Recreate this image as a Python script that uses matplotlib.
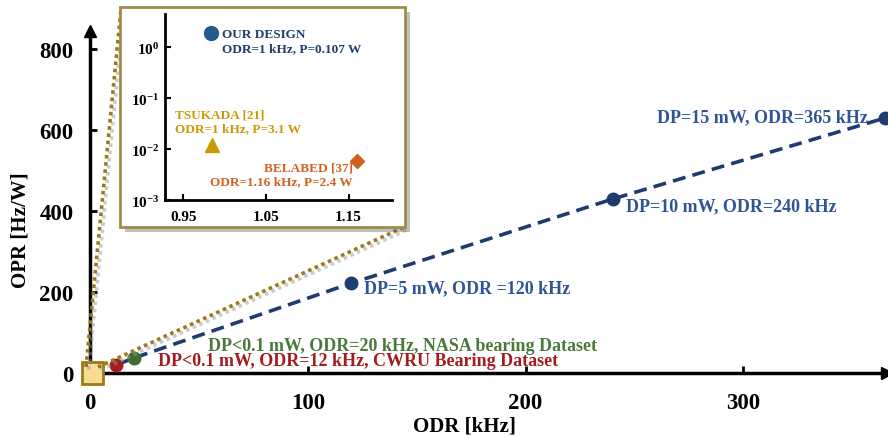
import matplotlib
matplotlib.use('Agg')
import matplotlib.pyplot as plt
import matplotlib.patheffects as pe
from matplotlib.patches import Rectangle
from matplotlib.lines import Line2D

plt.rcParams.update({'font.family': 'Liberation Serif', 'font.weight': 'bold'})

# main chart data (ODR in kHz, OPR in Hz/W)
odr = [12, 20, 120, 240, 365]
opr = [20, 37, 222, 430, 630]
point_colors = ['#a31c1f', '#3f6b35', '#1f3c6e', '#1f3c6e', '#1f3c6e']
point_labels = ['DP<0.1 mW, ODR=12 kHz, CWRU Bearing Dataset',
                'DP<0.1 mW, ODR=20 kHz, NASA bearing Dataset',
                'DP=5 mW, ODR =120 kHz',
                'DP=10 mW, ODR=240 kHz',
                'DP=15 mW, ODR=365 kHz']
label_colors = ['#a31c1f', '#4a7a3a', '#2f5597', '#2f5597', '#2f5597']
x_ticks = [0, 100, 200, 300]
y_ticks = [0, 200, 400, 600, 800]

# inset data (ODR in kHz, OPR log scale)
inset_names = ['OUR DESIGN\nODR=1 kHz, P=0.107 W',
               'TSUKADA [21]\nODR=1 kHz, P=3.1 W',
               'BELABED [37]\nODR=1.16 kHz, P=2.4 W']
inset_odr = [0.984, 0.985, 1.16]
inset_opr = [1.9, 0.012, 0.0058]
inset_markers = ['o', '^', 'D']
inset_colors = ['#245a8c', '#c99a06', '#d0621f']
inset_ticks = [0.95, 1.05, 1.15]

fig = plt.figure(figsize=(8.88, 4.39), dpi=100)
ax = fig.add_axes([0.1014, 0.148, 0.8975, 0.779])

# dashed trend line + points
ax.plot(odr, opr, color='#1f3c6e', lw=2.6, ls=(0, (3.6, 2)), zorder=3, clip_on=False)
for x, y, c in zip(odr, opr, point_colors):
    ax.plot(x, y, 'o', color=c, ms=9, zorder=4, clip_on=False)

# annotations
ax.text(31, 30, point_labels[0], color=label_colors[0], fontsize=13, va='center', ha='left')
ax.text(54, 69, point_labels[1], color=label_colors[1], fontsize=13, va='center', ha='left')
ax.text(126, 210, point_labels[2], color=label_colors[2], fontsize=13, va='center', ha='left')
ax.text(246, 414, point_labels[3], color=label_colors[3], fontsize=13, va='center', ha='left')
ax.text(357, 634, point_labels[4], color=label_colors[4], fontsize=13, va='center', ha='right')

ax.set_xlim(0, 366)
ax.set_ylim(0, 845)
ax.set_xticks(x_ticks)
ax.set_yticks(y_ticks)
ax.tick_params(direction='in', length=5, width=2, labelsize=16.5)
ax.tick_params(axis='x', pad=14)
ax.tick_params(axis='y', pad=12)
for lab in ax.get_xticklabels() + ax.get_yticklabels():
    lab.set_fontweight('bold')
for s in ['top', 'right']:
    ax.spines[s].set_visible(False)
for s in ['left', 'bottom']:
    ax.spines[s].set_linewidth(2.5)
ax.plot(1, 0, '>k', ms=9, transform=ax.get_yaxis_transform(), clip_on=False)
ax.plot(0, 1, '^k', ms=9, transform=ax.get_xaxis_transform(), clip_on=False)
ax.set_xlabel('ODR [kHz]', fontsize=15, fontweight='bold')
ax.xaxis.set_label_coords(0.47, -0.125)
ax.set_ylabel('OPR [Hz/W]', fontsize=15, fontweight='bold')
ax.yaxis.set_label_coords(-0.075, 0.42)

# zoom square at the origin
ax.add_patch(Rectangle((-3.7, -27), 9.6, 54, facecolor='#f9dc94', edgecolor='#9b7a1a',
                       lw=2, zorder=5, clip_on=False))

# dotted connector lines to the inset
shadow = [pe.SimpleLineShadow(offset=(2, -2), shadow_color='#999999', alpha=0.5), pe.Normal()]
for (x0, y0), (x1, y1) in [((86, 368), (121, 10)), ((98, 368), (404, 228))]:
    fig.add_artist(Line2D([x0 / 888, x1 / 888], [1 - y0 / 439, 1 - y1 / 439],
                          color='#9b7a1a', lw=2.6, ls=(0, (1, 1)),
                          path_effects=shadow, zorder=2))

# inset frame
frame = Rectangle((0.135, 0.481), 0.321, 0.501, transform=fig.transFigure,
                  facecolor='white', edgecolor='#a08c44', lw=2, zorder=6,
                  path_effects=[pe.SimplePatchShadow(offset=(4, -4), alpha=0.35), pe.Normal()])
fig.add_artist(frame)

ins = fig.add_axes([0.186, 0.542, 0.255, 0.424], zorder=7)
ins.patch.set_alpha(0)
ins.set_yscale('log')
ins.set_xlim(0.928, 1.202)
ins.set_ylim(1e-3, 10 ** 0.65)
for x, y, m, c in zip(inset_odr, inset_opr, inset_markers, inset_colors):
    ins.plot(x, y, m, color=c, ms=10 if m != 'D' else 7.5, clip_on=False)
ins.text(0.997, 1.3, inset_names[0], color='#1f3c6e', fontsize=9.5, va='center', ha='left',
         linespacing=1.2)
ins.text(0.94, 0.035, inset_names[1], color='#c99a06', fontsize=9.5, va='center', ha='left',
         linespacing=1.2)
ins.text(1.155, 0.0032, inset_names[2], color='#d0621f', fontsize=9.5, va='center', ha='right',
         linespacing=1.2, multialignment='right')
ins.set_xticks(inset_ticks)
ins.set_xticklabels([f'{t:.2f}' for t in inset_ticks])
ins.set_yticks([1e-3, 1e-2, 1e-1, 1e0])
ins.minorticks_off()
ins.tick_params(direction='in', length=4, width=1.5, labelsize=11)
ins.tick_params(axis='x', pad=7)
ins.tick_params(axis='y', pad=4)
for s in ['top', 'right']:
    ins.spines[s].set_visible(False)
for s in ['left', 'bottom']:
    ins.spines[s].set_linewidth(2)
ins.plot(1, 0, '>k', ms=6, transform=ins.get_yaxis_transform(), clip_on=False)
ins.plot(0, 1, '^k', ms=6, transform=ins.get_xaxis_transform(), clip_on=False)

fig.savefig('out.png', dpi=100)
